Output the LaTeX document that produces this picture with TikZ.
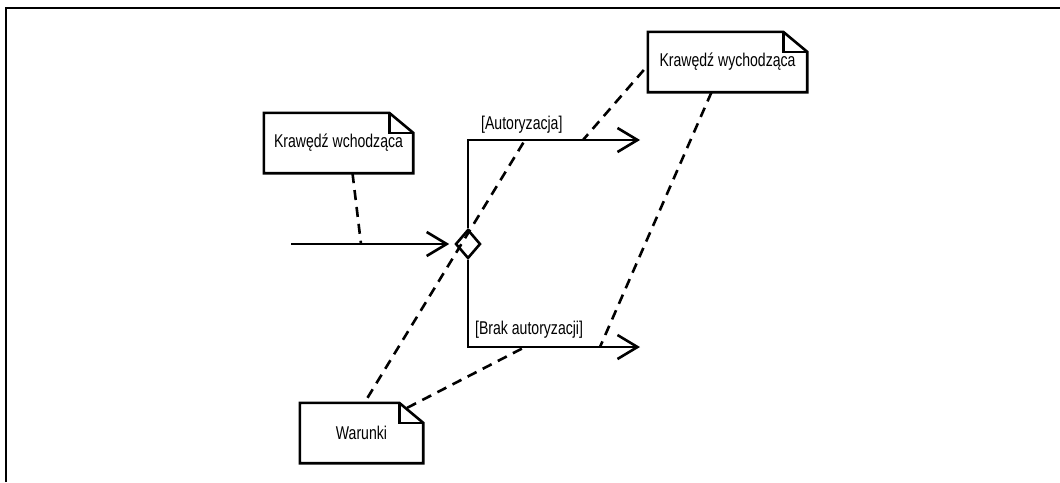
\documentclass[tikz,border=0pt]{standalone}
\usepackage{fontspec}
\setmainfont{Liberation Sans}[FakeStretch=0.76]
\usetikzlibrary{arrows.meta,shapes.geometric,calc}

\tikzset{
  line/.style={line width=2.6pt},
  notelink/.style={line width=2.6pt, dash pattern=on 10pt off 7pt},
  notebox/.style={minimum width=#1, minimum height=60pt, inner sep=0pt, font=\fontsize{18.5}{20}\selectfont},
  guard/.style={inner sep=0pt, anchor=west, font=\fontsize{18.5}{20}\selectfont},
  flow/.style={line, -{Straight Barb[length=20pt,width=24pt,line width=2.6pt]}},
  choice/.style={shape=diamond, draw, line width=2.6pt, inner sep=0pt, minimum width=25pt, minimum height=29pt},
}

% outline of a UML note with a folded top-right corner
\newcommand{\notecorner}[1]{%
  \draw[line, line join=miter] (#1.north west) -- ([xshift=-24pt]#1.north east)
    -- ([yshift=-20pt]#1.north east) -- (#1.south east) -- (#1.south west) -- cycle;
  \draw[line] ([xshift=-24pt]#1.north east) -- ([xshift=-24pt,yshift=-20pt]#1.north east)
    -- ([yshift=-20pt]#1.north east);
}

\begin{document}
\begin{tikzpicture}[x=1pt,y=-1pt]
\useasboundingbox (0,0) rectangle (1060,482);

% frame
\draw[line] (6,482) -- (6,8) -- (1060,8);

% notes
\node[notebox=149pt] (nin) at (338.5,143) {Krawędź wchodząca};
\node[notebox=159pt] (nout) at (727.5,62) {Krawędź wychodząca};
\node[notebox=123pt] (ncond) at (361.5,433) {Warunki};
\notecorner{nin}
\notecorner{nout}
\notecorner{ncond}

% decision
\node[choice] (dec) at (468,244) {};
\coordinate (src) at (291,244);
\coordinate (yes) at (640,140);
\coordinate (no) at (640,347);

\draw[flow, shorten >=5pt] (src) -- (dec.west);
\draw[flow] (dec.north) |- (yes);
\draw[flow] (dec.south) |- (no);

\node[guard] (gyes) at (481,125) {[Autoryzacja]};
\node[guard] (gno) at (475,330) {[Brak autoryzacji]};

% anchor points of the dashed note links
\coordinate (inlink) at (361,244);
\coordinate (yeslinkA) at (525,140);
\coordinate (yeslinkB) at (583,140);
\coordinate (nolinkA) at (525,347);
\coordinate (nolinkB) at (600,347);

\draw[notelink] ([xshift=14pt]nin.south) -- (inlink);
\draw[notelink] ([xshift=-4pt,yshift=-8pt]nout.west) -- (yeslinkB);
\draw[notelink] ([xshift=-16pt]nout.south) -- (nolinkB);
\draw[notelink] ([xshift=6pt,yshift=5pt]ncond.north) -- (yeslinkA);
\draw[notelink] ([xshift=-16pt,yshift=-5pt]ncond.north east) -- (nolinkA);
\end{tikzpicture}
\end{document}
